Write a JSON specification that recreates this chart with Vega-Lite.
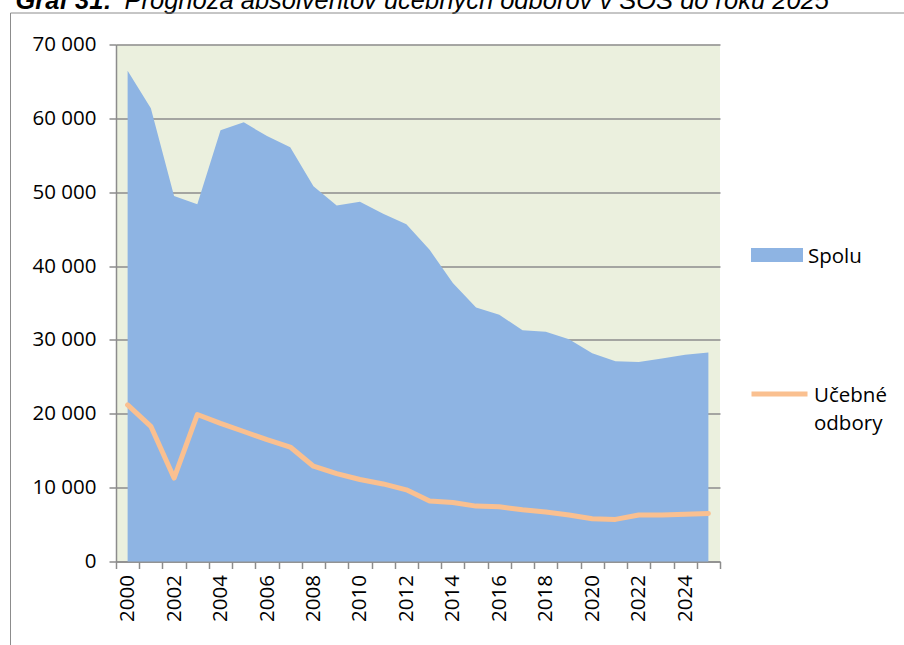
{
  "$schema": "https://vega.github.io/schema/vega-lite/v6.json",
  "width": 604,
  "height": 517,
  "autosize": "none",
  "padding": {"left": 116, "top": 44.5, "right": 184, "bottom": 83.5},
  "background": "white",
  "config": {
    "font": "Open Sans",
    "view": {"fill": "#EBF0DE", "stroke": null},
    "style": {"guide-label": {"dy": 8, "lineHeight": 28}}
  },
  "data": {
    "values": [
      {"year": 2000, "spolu": 66450, "ucebne": 21200},
      {"year": 2001, "spolu": 61360, "ucebne": 18300},
      {"year": 2002, "spolu": 49500, "ucebne": 11300},
      {"year": 2003, "spolu": 48360, "ucebne": 19900},
      {"year": 2004, "spolu": 58400, "ucebne": 18700},
      {"year": 2005, "spolu": 59460, "ucebne": 17600},
      {"year": 2006, "spolu": 57600, "ucebne": 16500},
      {"year": 2007, "spolu": 56100, "ucebne": 15500},
      {"year": 2008, "spolu": 50800, "ucebne": 12900},
      {"year": 2009, "spolu": 48200, "ucebne": 11900},
      {"year": 2010, "spolu": 48700, "ucebne": 11100},
      {"year": 2011, "spolu": 47100, "ucebne": 10500},
      {"year": 2012, "spolu": 45650, "ucebne": 9700},
      {"year": 2013, "spolu": 42200, "ucebne": 8200},
      {"year": 2014, "spolu": 37700, "ucebne": 8000},
      {"year": 2015, "spolu": 34400, "ucebne": 7500},
      {"year": 2016, "spolu": 33400, "ucebne": 7400},
      {"year": 2017, "spolu": 31300, "ucebne": 7000},
      {"year": 2018, "spolu": 31100, "ucebne": 6700},
      {"year": 2019, "spolu": 30100, "ucebne": 6300},
      {"year": 2020, "spolu": 28200, "ucebne": 5800},
      {"year": 2021, "spolu": 27100, "ucebne": 5700},
      {"year": 2022, "spolu": 27000, "ucebne": 6300},
      {"year": 2023, "spolu": 27500, "ucebne": 6300},
      {"year": 2024, "spolu": 28000, "ucebne": 6400},
      {"year": 2025, "spolu": 28300, "ucebne": 6500}
    ]
  },
  "layer": [
    {
      "mark": {"type": "area", "opacity": 1},
      "encoding": {
        "x": {
          "field": "year",
          "type": "ordinal",
          "bandPosition": 0.5,
          "scale": {"type": "band", "paddingInner": 0, "paddingOuter": 0},
          "title": "Graf 31:",
          "axis": {
            "labelAngle": -90,
            "labelAlign": "right",
            "labelBaseline": "middle",
            "labelFontSize": 20.5,
            "labelColor": "#000000",
            "labelPadding": 6,
            "labelOffset": -8,
            "labelExpr": "toNumber(datum.value) % 2 === 0 ? datum.label : ''",
            "tickBand": "extent",
            "tickSize": 7,
            "tickColor": "#8C8C8C",
            "tickWidth": 1.5,
            "domainColor": "#8C8C8C",
            "domainWidth": 1.5,
            "grid": false,
            "titleX": -101,
            "titleY": -553.5,
            "titleAlign": "left",
            "titleBaseline": "alphabetic",
            "titleAngle": 0,
            "titleFont": "Liberation Sans",
            "titleFontSize": 25.5,
            "titleFontStyle": "italic",
            "titleFontWeight": "bold",
            "titleColor": "#000000"
          }
        },
        "y": {
          "field": "spolu",
          "type": "quantitative",
          "scale": {"domain": [0, 70000], "nice": false, "zero": true},
          "title": "Prognóza absolventov učebných odborov v SOŠ do roku 2025",
          "axis": {
            "values": [0, 10000, 20000, 30000, 40000, 50000, 60000, 70000],
            "labelExpr": "replace(format(datum.value, ','), ',', ' ')",
            "labelFontSize": 20.5,
            "labelColor": "#000000",
            "labelPadding": 13,
            "labelOffset": -8,
            "tickSize": 7,
            "tickColor": "#8C8C8C",
            "tickWidth": 1.5,
            "domainColor": "#8C8C8C",
            "domainWidth": 1.5,
            "grid": true,
            "gridColor": "#8C8C8C",
            "gridWidth": 1.5,
            "titleX": 8,
            "titleY": -36.5,
            "titleAlign": "left",
            "titleBaseline": "alphabetic",
            "titleAngle": 0,
            "titleFont": "Liberation Sans",
            "titleFontSize": 25.5,
            "titleFontStyle": "italic",
            "titleFontWeight": "normal",
            "titleColor": "#000000"
          }
        },
        "fill": {
          "datum": "Spolu",
          "scale": {"domain": ["Spolu"], "range": ["#8EB4E3"]},
          "legend": {
            "orient": "none",
            "legendX": 635,
            "legendY": 184.5,
            "title": null,
            "padding": 0,
            "symbolType": "M-1,-0.27H1V0.27H-1Z",
            "symbolSize": 2704,
            "symbolStrokeWidth": 0,
            "labelFontSize": 20.5,
            "labelColor": "#000000",
            "labelBaseline": "alphabetic",
            "labelOffset": 5
          }
        },
        "opacity": {
          "datum": "ramik",
          "scale": {"domain": ["ramik"], "range": [1]},
          "legend": {
            "orient": "none",
            "legendX": -106,
            "legendY": -32,
            "title": null,
            "padding": 460,
            "strokeColor": "#8C8C8C",
            "symbolOpacity": 0,
            "symbolSize": 1,
            "labelExpr": "''"
          }
        }
      }
    },
    {
      "mark": {"type": "line", "strokeWidth": 5, "strokeCap": "round", "strokeJoin": "round"},
      "encoding": {
        "x": {"field": "year", "type": "ordinal", "bandPosition": 0.5},
        "y": {"field": "ucebne", "type": "quantitative"},
        "stroke": {
          "datum": "Učebné odbory",
          "scale": {"domain": ["Učebné odbory"], "range": ["#FAC090"]},
          "legend": {
            "orient": "none",
            "legendX": 633,
            "legendY": 319,
            "title": null,
            "padding": 0,
            "symbolType": "stroke",
            "symbolSize": 3136,
            "symbolStrokeWidth": 5,
            "labelFontSize": 20.5,
            "labelColor": "#000000",
            "labelBaseline": "alphabetic",
            "labelOffset": 4,
            "labelExpr": "['Učebné', 'odbory']"
          }
        }
      }
    }
  ]
}
